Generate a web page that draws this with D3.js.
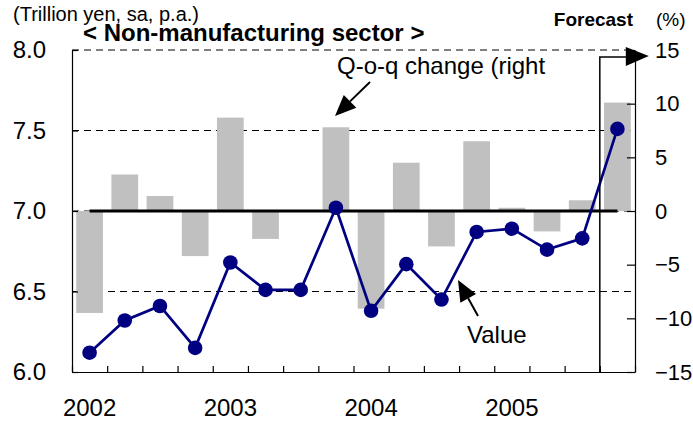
<!DOCTYPE html>
<html>
<head>
<meta charset="utf-8">
<script src="https://cdn.jsdelivr.net/npm/d3@7"></script>
<style>
  html, body { margin: 0; padding: 0; background: #fff; }
  svg { display: block; font-family: "Liberation Sans", Arial, sans-serif; }
</style>
</head>
<body>
<svg id="chart" width="693" height="423"></svg>
<script>
// ---- data ----
const quarters = ["2002Q1","2002Q2","2002Q3","2002Q4","2003Q1","2003Q2","2003Q3","2003Q4",
                  "2004Q1","2004Q2","2004Q3","2004Q4","2005Q1","2005Q2","2005Q3","2005Q4"];
const yearLabels = ["2002","2003","2004","2005"];
const yearStartQuarters = ["2002Q1","2003Q1","2004Q1","2005Q1"];
const levelValues = [6.12, 6.32, 6.41, 6.15, 6.68, 6.51, 6.51, 7.02, 6.38, 6.67, 6.45, 6.87, 6.89, 6.76, 6.83, 7.51];
const qoqChange = [-9.5, 3.4, 1.4, -4.2, 8.7, -2.6, 0.0, 7.8, -9.1, 4.5, -3.3, 6.5, 0.3, -1.9, 1.0, 10.1];
const leftTicks = [6.0, 6.5, 7.0, 7.5, 8.0];
const rightTicks = [-15, -10, -5, 0, 5, 10, 15];
const forecastStart = "2005Q4";

// ---- layout ----
const svg = d3.select("#chart");
const L = 72, R = 635, T = 50, B = 372;

const x = d3.scaleBand().domain(quarters).range([L, R]).paddingInner(0.24).paddingOuter(0.12);
const xb = d3.scaleLinear().domain([0, quarters.length]).range([L, R]);
const yL = d3.scaleLinear().domain([6, 8]).range([B, T]);
const yR = d3.scaleLinear().domain([-15, 15]).range([B, T]);
const cx = q => x(q) + x.bandwidth() / 2;

// gridlines (dashed)
svg.append("g").selectAll("line").data(leftTicks.filter(v => v > 6)).join("line")
  .attr("x1", L).attr("x2", R).attr("y1", d => yL(d)).attr("y2", d => yL(d))
  .attr("stroke", "#000").attr("stroke-width", 1).attr("stroke-dasharray", "7,5");

// bars
svg.append("g").selectAll("rect").data(quarters).join("rect")
  .attr("x", d => x(d))
  .attr("width", x.bandwidth())
  .attr("y", (d, i) => yR(Math.max(0, qoqChange[i])))
  .attr("height", (d, i) => Math.abs(yR(qoqChange[i]) - yR(0)))
  .attr("fill", "#c0c0c0");

// zero line
svg.append("line")
  .attr("x1", cx(quarters[0])).attr("x2", cx(quarters[quarters.length - 1]))
  .attr("y1", yR(0)).attr("y2", yR(0))
  .attr("stroke", "#000").attr("stroke-width", 3);

// axes
const axisStyle = g => {
  g.selectAll(".domain").attr("stroke", "#000").attr("stroke-width", 1.2);
  g.selectAll(".tick line").attr("stroke", "#000").attr("stroke-width", 1.2);
  g.selectAll("text").attr("fill", "#000").attr("font-family", "Liberation Sans, Arial, sans-serif");
};

svg.append("g").attr("transform", `translate(${L},0)`)
  .call(d3.axisLeft(yL).tickValues(leftTicks).tickFormat(d3.format(".1f")).tickSize(-6).tickSizeOuter(0).tickPadding(26))
  .call(axisStyle).call(g => g.selectAll("text").attr("font-size", 24));

svg.append("g").attr("transform", `translate(${R},0)`)
  .call(d3.axisRight(yR).tickValues(rightTicks).tickFormat(d3.format("d")).tickSize(-8).tickSizeOuter(0).tickPadding(20))
  .call(axisStyle).call(g => g.selectAll("text").attr("font-size", 22));

svg.append("g").attr("transform", `translate(0,${B})`)
  .call(d3.axisBottom(xb).tickValues(d3.range(quarters.length + 1)).tickFormat("").tickSize(-6).tickSizeOuter(0))
  .call(axisStyle);

svg.append("g").attr("transform", `translate(0,${B})`)
  .call(d3.axisBottom(x).tickValues(yearStartQuarters).tickFormat((d, i) => yearLabels[i]).tickSize(0).tickPadding(27))
  .call(axisStyle).call(g => { g.select(".domain").remove(); g.selectAll("text").attr("font-size", 24); });

// line series
svg.append("path").datum(levelValues)
  .attr("d", d3.line().x((d, i) => cx(quarters[i])).y(d => yL(d)))
  .attr("fill", "none").attr("stroke", "#000080").attr("stroke-width", 2.7);
svg.append("g").selectAll("circle").data(levelValues).join("circle")
  .attr("cx", (d, i) => cx(quarters[i])).attr("cy", d => yL(d)).attr("r", 7.3)
  .attr("fill", "#000080");

// forecast marker
const fx = xb(quarters.indexOf(forecastStart));
const fy = 57;
svg.append("path").attr("d", `M${fx},${B}V${fy}H${fx + 27}`)
  .attr("fill", "none").attr("stroke", "#000").attr("stroke-width", 1.5);
svg.append("path").attr("d", `M${fx + 26},${fy - 10}L${fx + 49},${fy - 1}L${fx + 26},${fy + 9}Z`).attr("fill", "#000");

// annotations
function arrow(x1, y1, x2, y2) {
  const a = Math.atan2(y2 - y1, x2 - x1), len = 21, w = 9;
  const bx = x2 - len * Math.cos(a), by = y2 - len * Math.sin(a);
  svg.append("line").attr("x1", x1).attr("y1", y1).attr("x2", bx).attr("y2", by)
    .attr("stroke", "#000").attr("stroke-width", 2);
  svg.append("path").attr("d",
    `M${x2},${y2}L${bx + w * Math.sin(a)},${by - w * Math.cos(a)}L${bx - w * Math.sin(a)},${by + w * Math.cos(a)}Z`)
    .attr("fill", "#000");
}
arrow(370, 82, 335, 116);
arrow(478, 316, 458, 280);

const txt = (s, tx, ty, size, opts = {}) => svg.append("text").attr("x", tx).attr("y", ty)
  .attr("font-size", size).attr("font-weight", opts.bold ? "bold" : "normal")
  .attr("text-anchor", opts.anchor || "start").attr("fill", "#000").text(s);

txt("(Trillion yen, sa, p.a.)", 13, 21, 20);
txt("< Non-manufacturing sector >", 83, 41, 24, { bold: true });
txt("Forecast", 633, 26, 19, { bold: true, anchor: "end" });
txt("(%)", 656, 26, 19);
txt("Q-o-q change (right", 337, 74, 24);
txt("Value", 467, 343, 24);
</script>
</body>
</html>
